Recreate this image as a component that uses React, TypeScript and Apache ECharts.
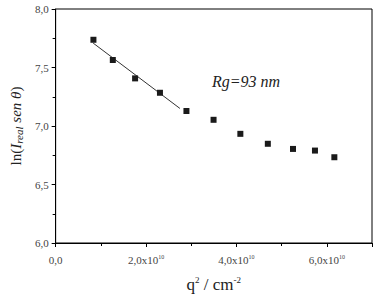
import React, { useEffect, useRef } from "react";
import * as echarts from "echarts";

const qSquared = [0.836e10, 1.265e10, 1.758e10, 2.308e10, 2.894e10, 3.494e10, 4.087e10, 4.695e10, 5.252e10, 5.738e10, 6.167e10];
const lnIntensity = [7.737, 7.564, 7.407, 7.284, 7.128, 7.053, 6.933, 6.848, 6.804, 6.79, 6.733];
const fitX = [0.829e10, 2.75e10];
const fitY = [7.709, 7.15];
const annotation = "Rg=93 nm";

const FONT = "'Liberation Serif', 'Times New Roman', 'DejaVu Serif', serif";

export default function App() {
  const ref = useRef<HTMLDivElement>(null);
  useEffect(() => {
    const chart = echarts.init(ref.current!, null, { renderer: "svg" });
    chart.setOption({
      animation: false,
      backgroundColor: "#fff",
      grid: { left: 45, right: 5, top: 9, bottom: 46, show: true, borderColor: "#000", borderWidth: 1 },
      xAxis: {
        type: "value",
        min: 0,
        max: 7e10,
        interval: 2e10,
        name: "q{sup|2} / cm{sup|-2}",
        nameLocation: "middle",
        nameGap: 32,
        nameTextStyle: {
          fontFamily: FONT, fontSize: 17, color: "#222",
          rich: { sup: { fontFamily: FONT, fontSize: 9, color: "#222", padding: [0, 0, 10, 0] } },
        },
        axisLine: { lineStyle: { color: "#000", width: 1 } },
        axisTick: { inside: false, length: 4, lineStyle: { color: "#000" } },
        minorTick: { show: true, splitNumber: 2, length: 3, lineStyle: { color: "#000" } },
        splitLine: { show: false },
        axisLabel: {
          margin: 11,
          showMaxLabel: false,
          fontFamily: FONT, fontSize: 11, color: "#444",
          formatter: (v: number) =>
            v >= 7e10 ? "" : v === 0 ? "0,0" : (v / 1e10).toFixed(1).replace(".", ",") + "x10{sup|10}",
          rich: { sup: { fontFamily: FONT, fontSize: 6, color: "#444", padding: [0, 0, 6, 0] } },
        },
      },
      yAxis: {
        type: "value",
        min: 6,
        max: 8,
        interval: 0.5,
        name: "ln({it|I}{sub|real} {it|sen θ})",
        nameLocation: "middle",
        nameGap: 30,
        nameRotate: 90,
        nameTextStyle: {
          fontFamily: FONT, fontSize: 15, color: "#222",
          rich: {
            it: { fontFamily: FONT, fontSize: 15, fontStyle: "italic", color: "#222" },
            sub: { fontFamily: FONT, fontSize: 11, fontStyle: "italic", color: "#222", padding: [6, 0, 0, 0] },
          },
        },
        axisLine: { show: true, lineStyle: { color: "#000", width: 1 } },
        axisTick: { inside: false, length: 4, lineStyle: { color: "#000" } },
        minorTick: { show: true, splitNumber: 2, length: 3, lineStyle: { color: "#000" } },
        splitLine: { show: false },
        axisLabel: {
          margin: 7,
          fontFamily: FONT, fontSize: 11, color: "#444",
          formatter: (v: number) => v.toFixed(1).replace(".", ","),
        },
      },
      series: [
        {
          type: "line",
          data: fitX.map((x, i) => [x, fitY[i]]),
          showSymbol: false,
          symbol: "none",
          lineStyle: { color: "#333", width: 1 },
          z: 1,
        },
        {
          type: "scatter",
          data: qSquared.map((x, i) => [x, lnIntensity[i]]),
          symbol: "rect",
          symbolSize: 6,
          itemStyle: { color: "#1a1a1a", opacity: 1 },
          z: 2,
        },
      ],
      graphic: [
        {
          type: "text",
          left: 212,
          top: 73,
          style: { text: annotation, fontFamily: FONT, fontSize: 16, fontStyle: "italic", fill: "#222" },
        },
      ],
    });
    return () => chart.dispose();
  }, []);
  return <div ref={ref} style={{ width: 377, height: 298, position: "absolute", left: 0, top: 0 }} />;
}
